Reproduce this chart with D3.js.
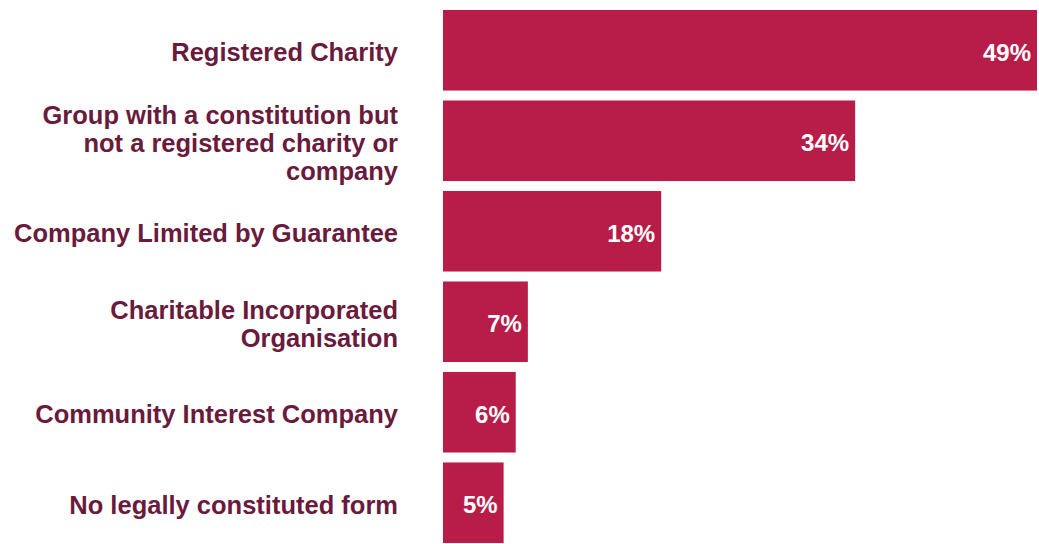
<!DOCTYPE html>
<html lang="en">
<head>
    <meta charset="UTF-8">
    <title>Legal form</title>
    <script src="https://cdn.jsdelivr.net/npm/d3@7"></script>
    <style>
        html,
        body {
            margin: 0;
            height: 100%;
            background: #fff;
        }
        svg text {
            font-family: "Liberation Sans", Arial, sans-serif;
            font-weight: bold;
        }
    </style>
</head>
<body>
<svg id="container"></svg>
<script>
    // data
    const categories = [
        'Registered Charity',
        'Group with a constitution but not a registered charity or company',
        'Company Limited by Guarantee',
        'Charitable Incorporated Organisation',
        'Community Interest Company',
        'No legally constituted form'
    ];
    const labelLines = [
        ['Registered Charity'],
        ['Group with a constitution but', 'not a registered charity or', 'company'],
        ['Company Limited by Guarantee'],
        ['Charitable Incorporated', 'Organisation'],
        ['Community Interest Company'],
        ['No legally constituted form']
    ];
    const values = [49, 34, 18, 7, 6, 5];

    const width = 1039, height = 544;
    const margin = {top: 10, left: 443, right: 2, bottom: 1};

    const svg = d3.select('#container')
        .attr('width', width)
        .attr('height', height);

    const data = categories.map((c, i) => ({name: c, lines: labelLines[i], value: values[i]}));

    const xScale = d3.scaleLinear()
        .domain([0, d3.max(values)])
        .range([margin.left, width - margin.right]);

    const yScale = d3.scaleBand()
        .domain(categories)
        .range([margin.top, height - margin.bottom])
        .paddingInner(0.11)
        .paddingOuter(0);

    const barColor = '#b81c48';
    const labelColor = '#6a1a3c';

    svg.selectAll('rect.bar')
        .data(data)
        .join('rect')
        .attr('class', 'bar')
        .attr('x', xScale(0))
        .attr('y', d => yScale(d.name))
        .attr('width', d => xScale(d.value) - xScale(0))
        .attr('height', yScale.bandwidth())
        .attr('fill', barColor);

    // value labels inside the bar end
    svg.selectAll('text.val')
        .data(data)
        .join('text')
        .attr('class', 'val')
        .attr('x', d => xScale(d.value) - 6)
        .attr('y', d => yScale(d.name) + yScale.bandwidth() / 2 + 2)
        .attr('dy', '0.36em')
        .attr('text-anchor', 'end')
        .attr('fill', '#fff')
        .style('font-size', '24px')
        .text(d => d.value + '%');

    // category labels, right aligned, multi-line
    const lineH = 28;
    const lab = svg.selectAll('text.cat')
        .data(data)
        .join('text')
        .attr('class', 'cat')
        .attr('text-anchor', 'end')
        .attr('fill', labelColor)
        .style('font-size', '25.5px')
        .attr('y', d => yScale(d.name) + yScale.bandwidth() / 2 + 2 - (d.lines.length - 1) * lineH / 2);

    lab.selectAll('tspan')
        .data(d => d.lines)
        .join('tspan')
        .attr('x', 398)
        .attr('dy', (d, i) => i === 0 ? '0.36em' : lineH)
        .text(d => d);
</script>
</body>
</html>
